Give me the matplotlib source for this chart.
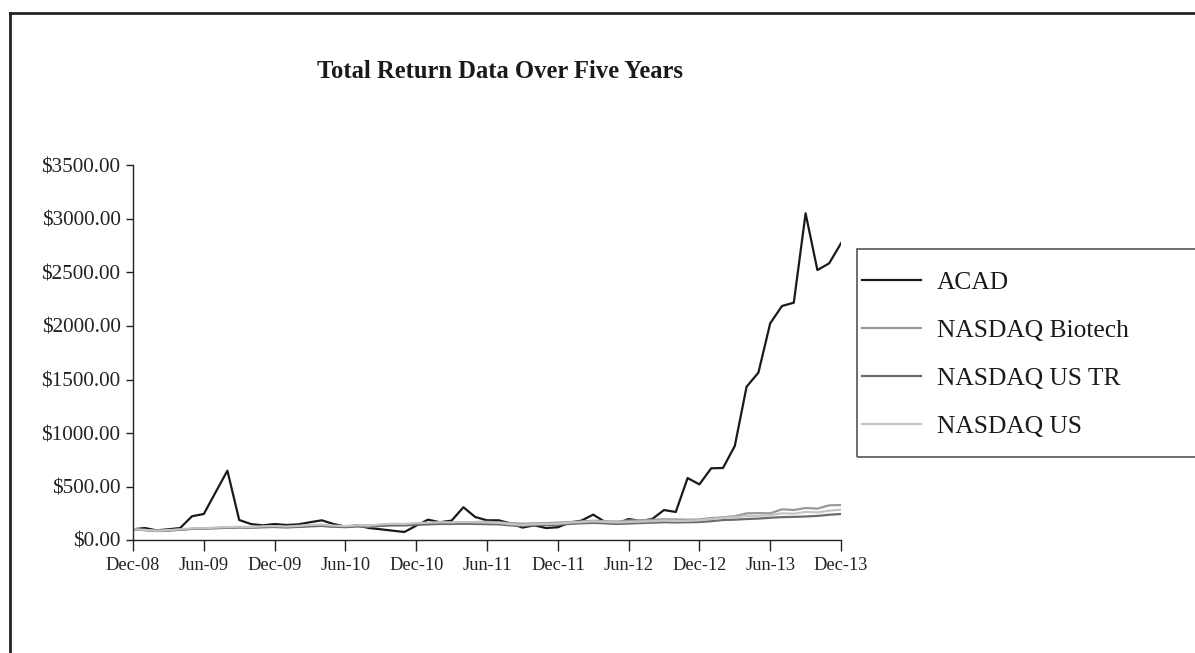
import matplotlib
matplotlib.use("Agg")
import matplotlib.pyplot as plt
from matplotlib.lines import Line2D
from matplotlib.patches import Rectangle

plt.rcParams['font.family'] = ['Liberation Serif', 'DejaVu Serif']

# monthly total return, Dec-08 .. Dec-13 (61 months)
acad = [100, 112, 90, 100, 112, 222, 243, 446, 648, 187, 149, 137, 149,
        140, 146, 166, 184, 149, 125, 137, 112, 100, 87, 75, 134,
        190, 166, 181, 306, 215, 184, 184, 155, 116, 137, 112, 119,
        162, 181, 237, 169, 152, 196, 178, 196, 280, 262, 579, 520,
        670, 673, 879, 1433, 1564, 2025, 2187, 2218, 3053, 2523, 2586, 2773]

nasdaq_biotech = [100, 94, 88, 90, 96, 104, 108, 112, 116, 118, 116, 120, 122,
                  120, 124, 130, 132, 126, 128, 132, 136, 140, 145, 146, 150,
                  156, 160, 162, 166, 168, 170, 166, 158, 152, 156, 158, 162,
                  168, 174, 180, 176, 172, 182, 184, 188, 194, 192, 190, 192,
                  205, 212, 222, 249, 252, 249, 287, 280, 299, 293, 324, 327]

nasdaq_us_tr = [100, 92, 84, 88, 96, 104, 106, 110, 114, 118, 116, 120, 122,
                118, 122, 128, 132, 124, 120, 126, 122, 132, 136, 136, 142,
                146, 150, 150, 152, 150, 148, 146, 136, 130, 138, 140, 142,
                150, 156, 160, 156, 150, 154, 158, 162, 166, 164, 166, 168,
                176, 187, 190, 196, 200, 208, 214, 216, 220, 225, 236, 243]

nasdaq_us = [100, 94, 86, 92, 100, 108, 110, 116, 120, 124, 122, 128, 130,
             126, 132, 140, 144, 134, 130, 138, 134, 146, 152, 150, 158,
             162, 166, 164, 168, 166, 164, 160, 148, 140, 148, 150, 152,
             162, 168, 174, 170, 164, 168, 172, 176, 182, 178, 180, 184,
             196, 206, 212, 224, 226, 232, 249, 246, 262, 258, 274, 284]

tick_labels = ['Dec-08', 'Jun-09', 'Dec-09', 'Jun-10', 'Dec-10', 'Jun-11',
               'Dec-11', 'Jun-12', 'Dec-12', 'Jun-13', 'Dec-13']

W, H = 1195, 653
fig = plt.figure(figsize=(W / 100, H / 100), dpi=100)
ax = fig.add_axes([133 / W, 1 - 540 / H, (841 - 133) / W, (540 - 165.5) / H])

months = list(range(len(acad)))
ax.plot(months, acad, color='#1a1a1a', lw=1.6, label='ACAD')
ax.plot(months, nasdaq_biotech, color='#999999', lw=1.6, label='NASDAQ Biotech')
ax.plot(months, nasdaq_us_tr, color='#6b6b6b', lw=1.6, label='NASDAQ US TR')
ax.plot(months, nasdaq_us, color='#c4c4c4', lw=1.6, label='NASDAQ US')

ax.set_xlim(0, 60)
ax.set_ylim(0, 3500)
ax.set_xticks(range(0, 61, 6))
ax.set_xticklabels(tick_labels)
ax.set_yticks(range(0, 3501, 500))
ax.set_yticklabels(['$%.2f' % v for v in range(0, 3501, 500)])

for s in ['top', 'right']:
    ax.spines[s].set_visible(False)
for s in ['left', 'bottom']:
    ax.spines[s].set_linewidth(1.0)
    ax.spines[s].set_color('#222222')

ax.tick_params(axis='x', direction='out', length=8, width=1, labelsize=13.2, pad=4, colors='#222222')
ax.tick_params(axis='y', direction='out', length=5, width=1, labelsize=15.2, pad=4, colors='#222222')

fig.text(500 / W, 1 - 72 / H, 'Total Return Data Over Five Years',
         ha='center', va='center', fontsize=17.7, fontweight='bold', color='#1a1a1a')

# legend box runs off the right edge
fig.add_artist(Rectangle((857 / W, 1 - 456.5 / H), (1210 - 857) / W, (456.5 - 249) / H,
                         transform=fig.transFigure, fill=False, edgecolor='#555555', lw=1.2))
handles, labels = ax.get_legend_handles_labels()
leg = fig.legend(handles, labels, loc='upper left', bbox_to_anchor=(857 / W, 1 - 266 / H),
                 frameon=False, fontsize=18.4, handlelength=2.3, handletextpad=0.62,
                 labelspacing=0.98, borderaxespad=0, borderpad=0.2)
for t in leg.get_texts():
    t.set_color('#1a1a1a')

# outer frame (top and left edges)
fig.add_artist(Line2D([10 / W, 1], [1 - 12.5 / H, 1 - 12.5 / H], transform=fig.transFigure,
                      color='#222222', lw=2))
fig.add_artist(Line2D([10 / W, 10 / W], [0, 1 - 12.5 / H], transform=fig.transFigure,
                      color='#222222', lw=2))

fig.savefig('out.png', dpi=100)
